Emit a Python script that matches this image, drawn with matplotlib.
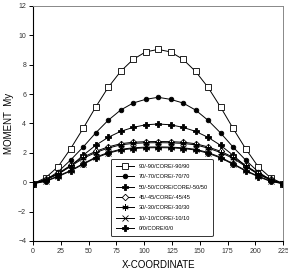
import matplotlib
matplotlib.use("Agg")
import matplotlib.pyplot as plt

plt.rcParams['font.family'] = ['Liberation Sans', 'DejaVu Sans']

# x positions along the beam
x = [0, 11.25, 22.5, 33.75, 45, 56.25, 67.5, 78.75, 90, 101.25, 112.5,
     123.75, 135, 146.25, 157.5, 168.75, 180, 191.25, 202.5, 213.75, 225]

half_90 = [-0.1, 0.3, 1.06, 2.28, 3.66, 5.11, 6.45, 7.54, 8.36, 8.87, 9.04]
half_70 = [-0.1, 0.15, 0.71, 1.51, 2.39, 3.35, 4.21, 4.91, 5.39, 5.64, 5.78]
half_50 = [-0.1, 0.15, 0.56, 1.10, 1.83, 2.51, 3.05, 3.46, 3.73, 3.91, 3.96]
half_45 = [-0.1, 0.2, 0.6, 1.15, 1.7, 2.1, 2.4, 2.62, 2.72, 2.76, 2.77]
half_30 = [-0.1, 0.17, 0.55, 1.08, 1.62, 2.02, 2.32, 2.54, 2.64, 2.68, 2.69]
half_10 = [-0.1, 0.08, 0.42, 0.8, 1.26, 1.7, 2.02, 2.24, 2.34, 2.39, 2.40]
half_0 = [-0.1, 0.05, 0.38, 0.76, 1.22, 1.65, 1.97, 2.19, 2.29, 2.34, 2.35]

def mirror(h):
    return h + h[-2::-1]

series = [
    ("90/-90/CORE/-90/90", mirror(half_90), 's', 'white', 3.8),
    ("70/-70/CORE/-70/70", mirror(half_70), 'o', 'black', 3.3),
    ("50/-50/CORE/CORE/-50/50", mirror(half_50), 'P', 'black', 3.8),
    ("45/-45/CORE/-45/45", mirror(half_45), 'D', 'white', 3.3),
    ("30/-30/CORE/-30/30", mirror(half_30), (6, 2, 0), 'black', 4.5),
    ("10/-10/CORE/-10/10", mirror(half_10), 'x', 'black', 3.8),
    ("0/0/CORE/0/0", mirror(half_0), 'P', 'black', 4.5),
]

fig = plt.figure(figsize=(2.88, 2.71), dpi=100)
ax = fig.add_axes([0.115, 0.111, 0.868, 0.867])

for label, y, m, fc, ms in series:
    ax.plot(x, y, color='black', linewidth=0.7, marker=m, markersize=ms,
            markerfacecolor=fc, markeredgecolor='black', markeredgewidth=0.6,
            label=label)

ax.set_xlim(0, 225)
ax.set_ylim(-4, 12)
ax.set_xticks(range(0, 226, 25))
ax.set_yticks(range(-4, 13, 2))
ax.tick_params(direction='out', length=3, width=0.7, labelsize=5, pad=2,
               labelcolor='#333333')
for s in ['top', 'right']:
    ax.spines[s].set_color('#888888')
    ax.spines[s].set_linewidth(0.7)
for s in ['left', 'bottom']:
    ax.spines[s].set_linewidth(0.8)

ax.set_xlabel('X-COORDINATE', fontsize=7, labelpad=4)
ax.set_ylabel('MOMENT  My', fontsize=7, labelpad=3)

leg = ax.legend(loc='lower left', bbox_to_anchor=(0.3, 0.01), fontsize=4.1,
                frameon=True, fancybox=True, edgecolor='black',
                handlelength=3.2, labelspacing=0.95, borderpad=0.8,
                handletextpad=0.9)
leg.get_frame().set_linewidth(0.7)

fig.savefig('out.png', dpi=100)
